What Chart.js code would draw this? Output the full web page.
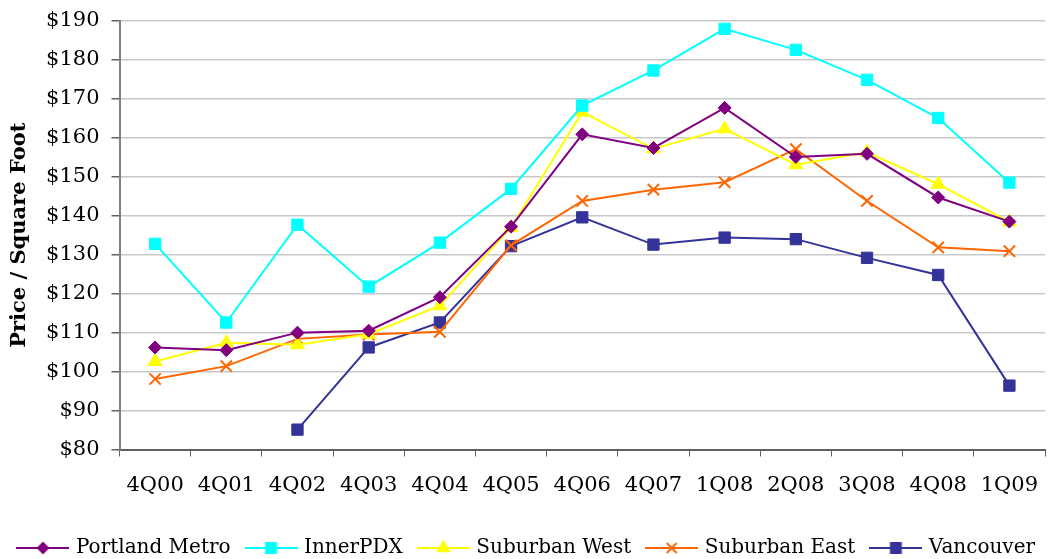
<!DOCTYPE html>
<html>
<head>
<meta charset="utf-8">
<script src="https://cdn.jsdelivr.net/npm/chart.js@4/dist/chart.umd.min.js"></script>
<style>
	html, body { margin: 0; padding: 0; background: #fff; }
	#wrap { width: 1055px; height: 559px; }
</style>
</head>
<body>
<div id="wrap"><canvas id="chart" width="1055" height="559"></canvas></div>
<script>
// values
var quarters = ['4Q00', '4Q01', '4Q02', '4Q03', '4Q04', '4Q05', '4Q06', '4Q07', '1Q08', '2Q08', '3Q08', '4Q08', '1Q09'];
var portlandMetro = [106.2, 105.5, 110.0, 110.5, 119.1, 137.2, 160.9, 157.4, 167.7, 155.1, 155.9, 144.7, 138.5];
var innerPDX = [132.8, 112.6, 137.7, 121.8, 133.1, 146.9, 168.3, 177.3, 188.0, 182.6, 174.9, 165.1, 148.5];
var suburbanWest = [102.6, 107.4, 106.9, 109.6, 116.9, 137.0, 166.6, 157.2, 162.3, 153.1, 156.3, 148.1, 138.4];
var suburbanEast = [98.1, 101.4, 108.4, 109.5, 110.2, 132.4, 143.8, 146.7, 148.6, 157.1, 143.8, 131.9, 130.9];
var vancouver = [null, null, 85.1, 106.2, 112.6, 132.2, 139.6, 132.6, 134.4, 134.0, 129.2, 124.8, 96.4];
var yTicks = [80, 90, 100, 110, 120, 130, 140, 150, 160, 170, 180, 190];

var serif = '"DejaVu Serif", "Liberation Serif", serif';

// little line + marker pictures for the legend
function legendSwatch(color, style, radius) {
	var c = document.createElement('canvas');
	c.width = 53;
	c.height = 18;
	var g = c.getContext('2d');
	g.strokeStyle = color;
	g.lineWidth = 2;
	g.beginPath();
	g.moveTo(0, 9);
	g.lineTo(53, 9);
	g.stroke();
	g.fillStyle = color;
	Chart.helpers.drawPoint(g, {pointStyle: style, radius: radius, rotation: 0, borderWidth: 2}, 26.5, 9);
	return c;
}

function series(label, data, color, style, radius, legendRadius) {
	return {
		label: label,
		data: data,
		borderColor: color,
		backgroundColor: color,
		borderWidth: 2,
		pointStyle: style,
		pointRadius: radius,
		pointHoverRadius: radius,
		pointBorderWidth: style === 'crossRot' ? 2 : 1,
		tension: 0,
		spanGaps: false,
		legendRadius: legendRadius
	};
}

var datasets = [
	series('Portland Metro', portlandMetro, '#800080', 'rectRot', 6.5, 5),
	series('InnerPDX', innerPDX, '#00FFFF', 'rect', 8, 7),
	series('Suburban West', suburbanWest, '#FFFF00', 'triangle', 8, 6.5),
	series('Suburban East', suburbanEast, '#FF6600', 'crossRot', 8, 7),
	series('Vancouver', vancouver, '#333399', 'rect', 8, 7)
];

var ctx = document.getElementById('chart').getContext('2d');
var myChart = new Chart(ctx, {
	type: 'line',
	data: {
		labels: quarters,
		datasets: datasets
	},
	options: {
		responsive: false,
		animation: false,
		devicePixelRatio: 1,
		layout: {
			padding: {left: 0, right: 0, top: 21, bottom: -9}
		},
		plugins: {
			tooltip: {enabled: false},
			legend: {
				position: 'bottom',
				labels: {
					usePointStyle: true,
					pointStyleWidth: 46,
					boxHeight: 18,
					padding: 17.5,
					color: '#000',
					font: {family: serif, size: 20},
					generateLabels: function(chart) {
						return chart.data.datasets.map(function(ds, i) {
							return {
								text: ds.label,
								pointStyle: legendSwatch(ds.borderColor, ds.pointStyle, ds.legendRadius),
								fillStyle: ds.borderColor,
								strokeStyle: ds.borderColor,
								lineWidth: 0,
								datasetIndex: i,
								hidden: false
							};
						});
					}
				}
			}
		},
		scales: {
			x: {
				offset: true,
				grid: {
					offset: true,
					drawOnChartArea: false,
					drawTicks: true,
					tickLength: 7,
					color: '#606060'
				},
				border: {color: '#606060', width: 2},
				ticks: {
					color: '#000',
					padding: 16,
					maxRotation: 0,
					autoSkip: false,
					font: {family: serif, size: 21}
				},
				afterFit: function(scale) {
					scale.height = 71;
				}
			},
			y: {
				min: 80,
				max: 190,
				afterBuildTicks: function(scale) {
					scale.ticks = yTicks.map(function(v) { return {value: v}; });
				},
				grid: {
					color: '#c8c8c8',
					lineWidth: 1.5,
					drawTicks: true,
					tickLength: 8,
					tickColor: '#606060'
				},
				border: {color: '#808080', width: 2},
				ticks: {
					color: '#000',
					padding: 12,
					font: {family: serif, size: 21},
					callback: function(v) { return '$' + v; }
				},
				title: {
					display: true,
					text: 'Price / Square Foot',
					color: '#000',
					padding: {top: 7, bottom: 0},
					font: {family: serif, size: 21, weight: 'bold'}
				},
				afterFit: function(scale) {
					scale.width = 119.5;
					// let the layout padding alone decide the top and bottom
					scale.paddingTop = 0;
					scale.paddingBottom = 0;
				}
			}
		}
	}
});
</script>
</body>
</html>
